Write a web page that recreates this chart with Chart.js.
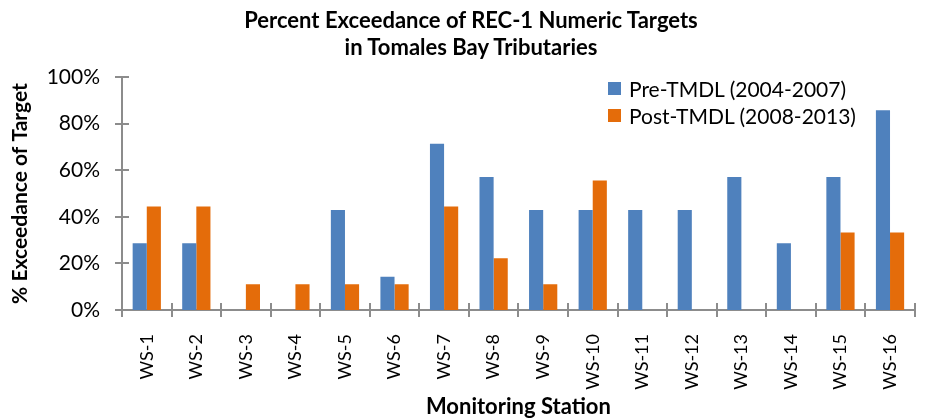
<!DOCTYPE html>
<html>
<head>
<meta charset="utf-8">
<script src="https://cdn.jsdelivr.net/npm/chart.js@4/dist/chart.umd.min.js"></script>
<style>
  html,body{margin:0;padding:0;background:#fff;}
  #wrap{position:relative;width:928px;height:418px;}
  #title{position:absolute;left:171px;width:600px;top:6px;text-align:center;font-family:Lato,"Open Sans",sans-serif;font-size:22px;font-weight:bold;line-height:27px;color:#000;white-space:nowrap;}
  #legend{position:absolute;left:608px;top:75px;font-family:Lato,"Open Sans",sans-serif;font-size:21px;color:#000;}
  #legend .row{display:flex;align-items:center;height:27px;}
  #legend .box{width:13px;height:13px;margin-right:8px;}
</style>
</head>
<body>
<div id="wrap">
<canvas id="c" width="928" height="418"></canvas>
<div id="title"></div>
<div id="legend"></div>
</div>
<script>
const titleLines = ["Percent Exceedance of REC-1 Numeric Targets", "in Tomales Bay Tributaries"];
const xTitle = "Monitoring Station";
const yTitle = "% Exceedance of Target";
const stations = ["WS-1","WS-2","WS-3","WS-4","WS-5","WS-6","WS-7","WS-8","WS-9","WS-10","WS-11","WS-12","WS-13","WS-14","WS-15","WS-16"];
const preLabel = "Pre-TMDL (2004-2007)";
const postLabel = "Post-TMDL (2008-2013)";
const preValues = [28.6,28.6,0,0,42.9,14.3,71.4,57.1,42.9,42.9,42.9,42.9,57.1,28.6,57.1,85.7];
const postValues = [44.4,44.4,11.1,11.1,11.1,11.1,44.4,22.2,11.1,55.6,0,0,0,0,33.3,33.3];
const yTicks = [0,20,40,60,80,100];

const FONT = 'Lato, "Open Sans", sans-serif';
const AXIS = '#8c8c8c';
const BLUE = '#4F81BD';
const ORANGE = '#E46C0A';

const crossTicks = {
  id: 'crossTicks',
  afterDraw(chart) {
    const ctx = chart.ctx;
    const xs = chart.scales.x, ys = chart.scales.y;
    const a = chart.chartArea;
    ctx.save();
    ctx.strokeStyle = AXIS;
    ctx.lineWidth = 2;
    ctx.beginPath();
    ys.ticks.forEach((t, i) => {
      const y = Math.round(ys.getPixelForTick(i));
      ctx.moveTo(a.left - 7, y); ctx.lineTo(a.left + 7, y);
    });
    const n = stations.length;
    for (let i = 0; i <= n; i++) {
      const x = Math.round(xs.left + (xs.right - xs.left) * i / n);
      ctx.moveTo(x, a.bottom - 7); ctx.lineTo(x, a.bottom + 7);
    }
    ctx.stroke();
    ctx.restore();
  }
};

const chart = new Chart(document.getElementById('c'), {
  type: 'bar',
  data: {
    labels: stations,
    datasets: [
      {label: preLabel, data: preValues, backgroundColor: BLUE},
      {label: postLabel, data: postValues, backgroundColor: ORANGE}
    ]
  },
  options: {
    responsive: false,
    animation: false,
    devicePixelRatio: 1,
    layout: {padding: {left: 0, right: 12, top: 77, bottom: 0}},
    datasets: {bar: {barPercentage: 1.0, categoryPercentage: 0.57}},
    plugins: {
      legend: {display: false},
      tooltip: {enabled: false},
      title: {display: false}
    },
    scales: {
      x: {
        grid: {display: false},
        border: {display: true, color: AXIS, width: 2},
        ticks: {color: '#000', font: {family: FONT, size: 18}, minRotation: 90, maxRotation: 90, padding: 16, autoSkip: false},
        title: {display: true, text: xTitle, color: '#000', font: {family: FONT, size: 22, weight: 'bold', lineHeight: 1.0}, padding: {top: 0, bottom: 0}},
        afterFit: s => { s.height = 108; }
      },
      y: {
        min: 0, max: 100,
        afterBuildTicks: s => { s.ticks = yTicks.map(v => ({value: v})); },
        grid: {display: false},
        border: {display: true, color: AXIS, width: 2},
        ticks: {color: '#000', font: {family: FONT, size: 21}, padding: 14, callback: v => v + '%'},
        title: {display: true, text: yTitle, color: '#000', font: {family: FONT, size: 21, weight: 'bold', lineHeight: 1.2}, padding: {top: 8, bottom: 4}},
        afterFit: s => { s.width = 122; }
      }
    }
  },
  plugins: [crossTicks]
});

const tdiv = document.getElementById('title');
titleLines.forEach(t => { const d = document.createElement('div'); d.textContent = t; tdiv.appendChild(d); });

const leg = document.getElementById('legend');
chart.data.datasets.forEach(ds => {
  const row = document.createElement('div'); row.className = 'row';
  const box = document.createElement('span'); box.className = 'box'; box.style.background = ds.backgroundColor;
  const txt = document.createElement('span'); txt.textContent = ds.label;
  row.appendChild(box); row.appendChild(txt); leg.appendChild(row);
});
</script>
</body>
</html>
